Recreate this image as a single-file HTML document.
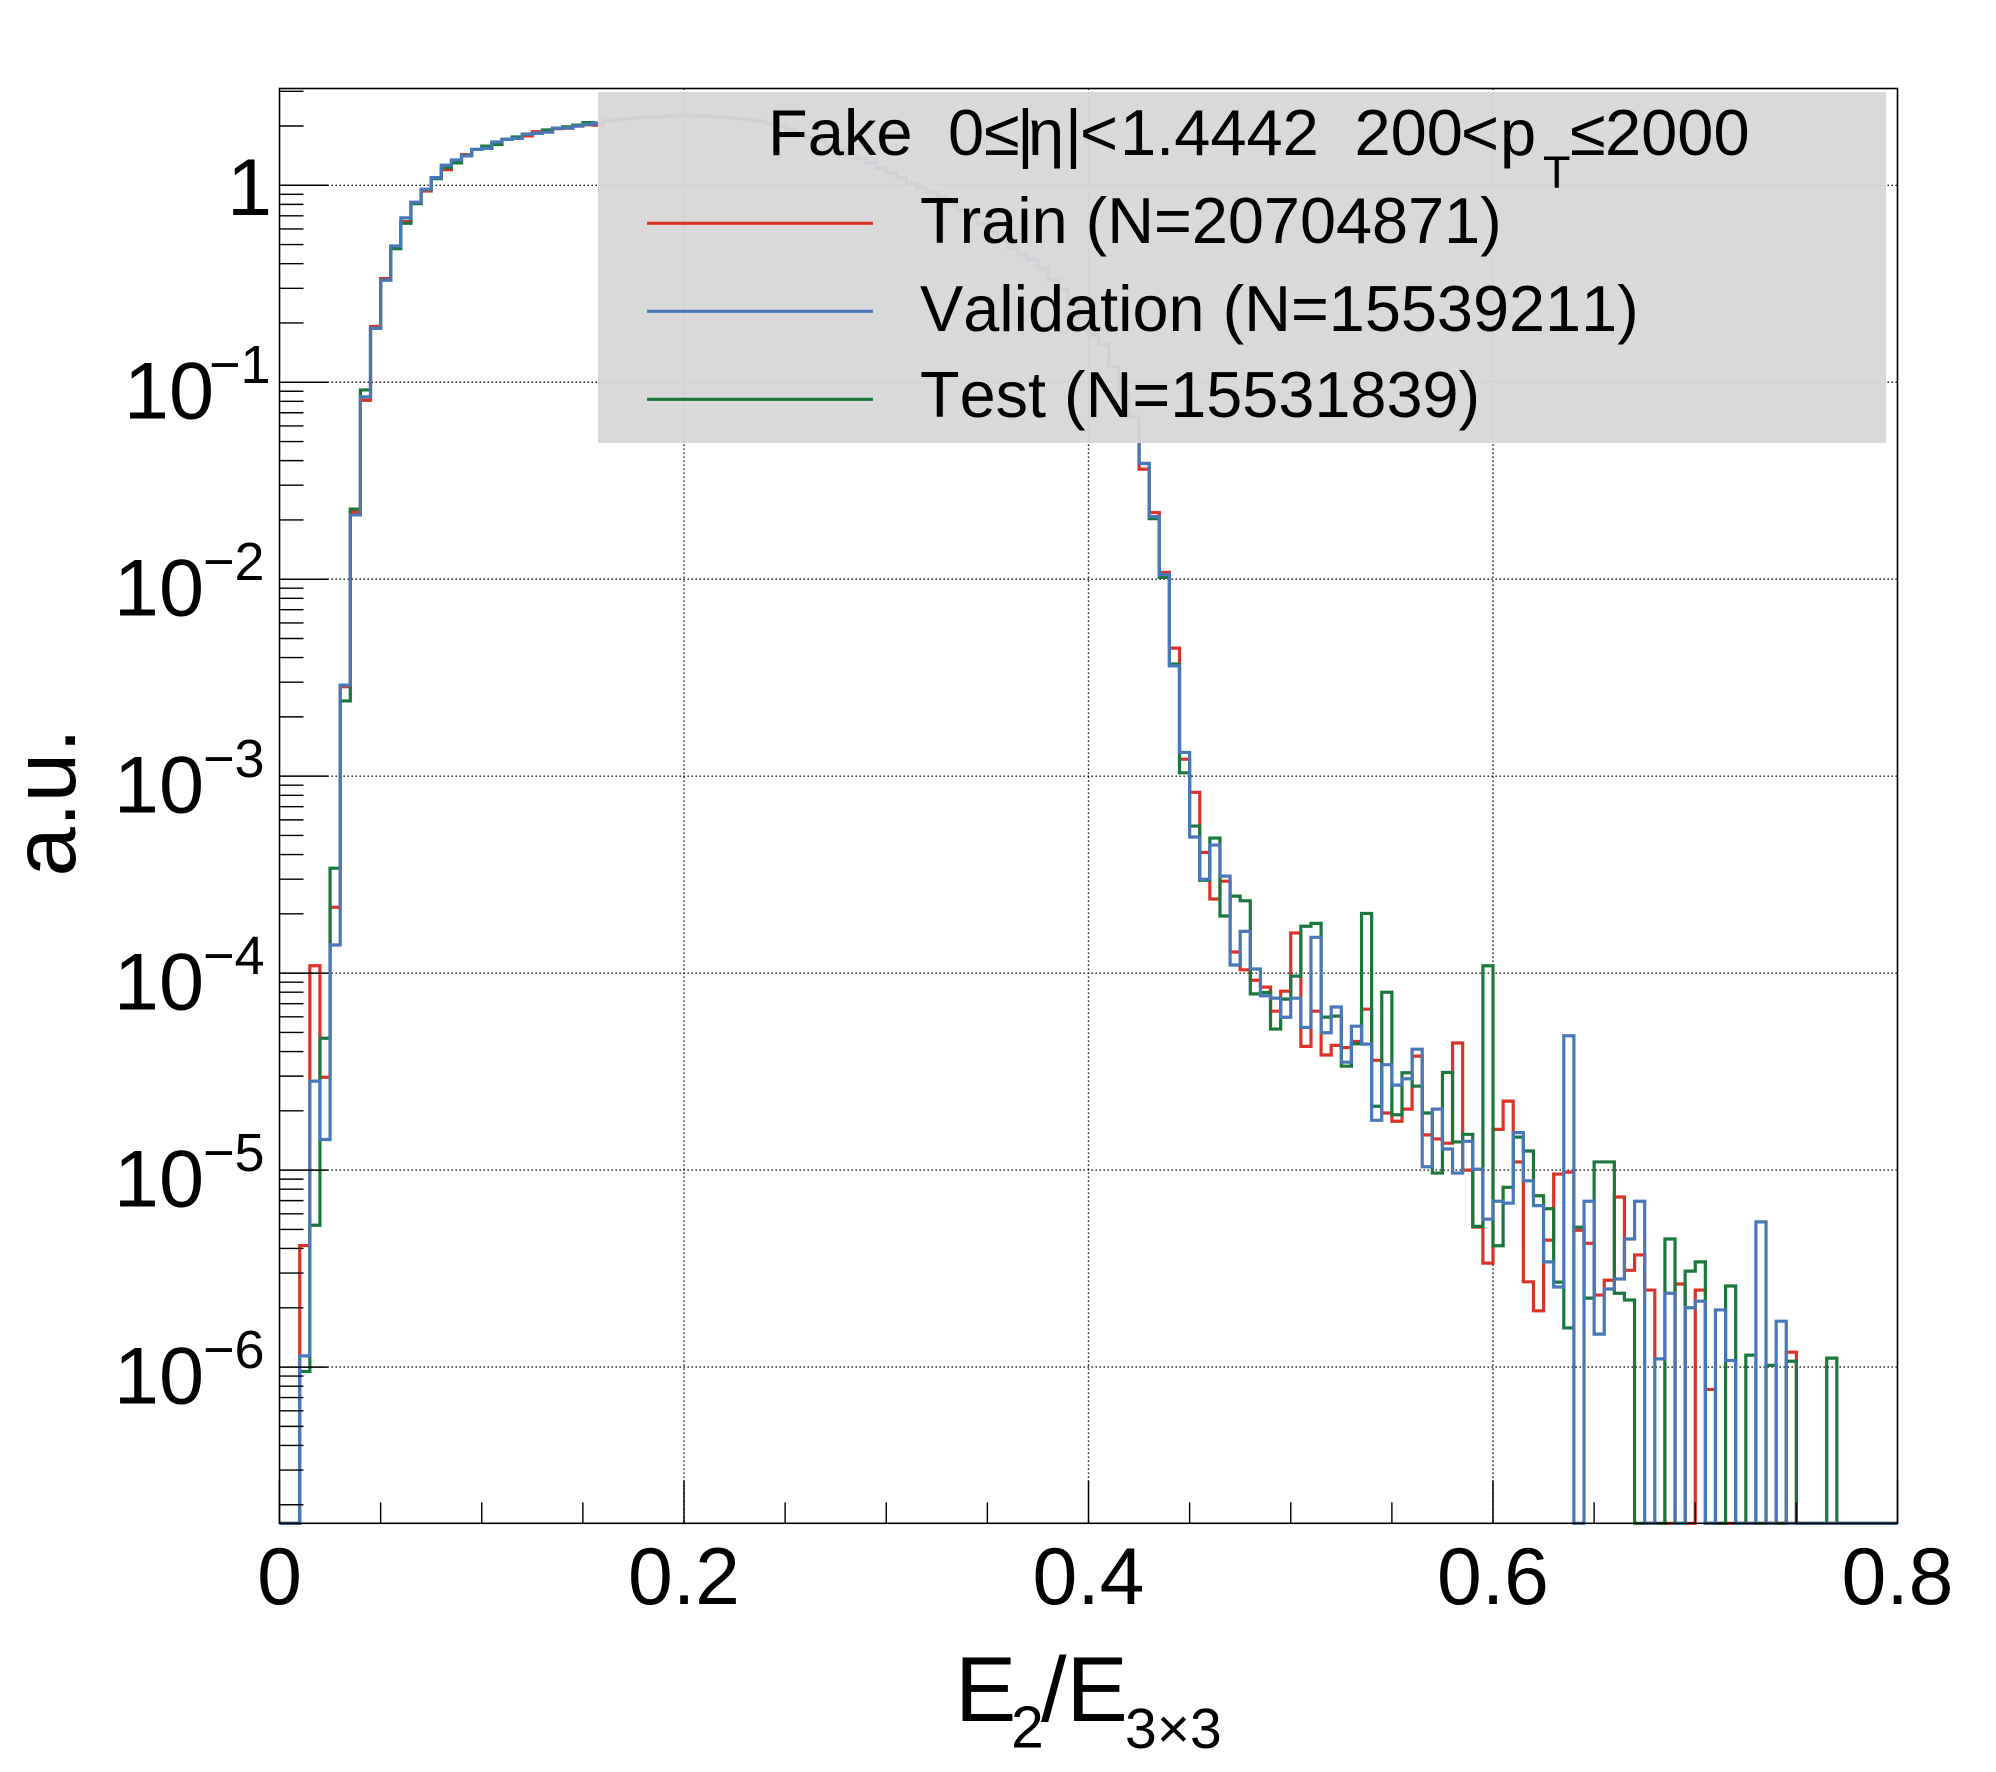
<!DOCTYPE html>
<html lang="en">
<head>
<meta charset="utf-8">
<title>E2/E3x3 distribution</title>
<style>
html,body{margin:0;padding:0;background:#fff;}
svg{display:block;}
text{font-family:"Liberation Sans","Noto Sans CJK JP",sans-serif;fill:#000;font-kerning:none;}
</style>
</head>
<body>
<svg id="chart" xmlns="http://www.w3.org/2000/svg" width="1996" height="1772" viewBox="0 0 1996 1772">
  <rect x="0" y="0" width="1996" height="1772" fill="#ffffff"/>
  <g id="grid"></g>
  <g id="series"></g>
  <g id="axes"></g>

  <g>
    <rect x="598" y="92" width="1288" height="351" fill="rgb(215,215,215)" fill-opacity="0.94"/>
    <text y="155" font-size="65"><tspan x="768">Fake</tspan><tspan x="948">0</tspan><tspan x="984">≤</tspan><tspan x="1017">|</tspan><tspan x="1028">η</tspan><tspan x="1065">|</tspan><tspan x="1080">&lt;</tspan><tspan x="1120">1.4442</tspan><tspan x="1354.5">200</tspan><tspan x="1461">&lt;</tspan><tspan x="1500">p</tspan><tspan x="1543" font-size="45" dy="33">T</tspan><tspan x="1570" dy="-33">≤</tspan><tspan x="1605">2000</tspan></text>
    <line x1="647" x2="873" y1="223.3" y2="223.3" stroke="#dc3228" stroke-width="3.2"/>
    <text x="920" y="243" font-size="64.8">Train (N=20704871)</text>
    <line x1="647" x2="873" y1="311.3" y2="311.3" stroke="#4878b8" stroke-width="3.2"/>
    <text x="920" y="331" font-size="64.8">Validation (N=15539211)</text>
    <line x1="647" x2="873" y1="399.3" y2="399.3" stroke="#1a783c" stroke-width="3.2"/>
    <text x="920" y="417" font-size="64.8">Test (N=15531839)</text>
  </g>

  <text transform="translate(75,876.6) rotate(-90)" font-size="89">a.u.</text>
  <text y="1721" font-size="92"><tspan x="955">E</tspan><tspan x="1011" font-size="59" dy="26.5">2</tspan><tspan x="1041" dy="-26.5">/E</tspan><tspan x="1125" font-size="57" dy="27">3×3</tspan></text>
</svg>

<script>
const binCount = 160;
const xMin = 0;
const xMax = 0.8;
const yMax = 3.1;
const yMin = 1.61e-7;

const xTickValues = [0, 0.2, 0.4, 0.6, 0.8];
const xTickLabels = ["0", "0.2", "0.4", "0.6", "0.8"];
const xMinorStep = 0.05;
const yDecadeExponents = [0, -1, -2, -3, -4, -5, -6];
const yDecadeBase = ["1", "10", "10", "10", "10", "10", "10"];
const yDecadeSup = ["", "−1", "−2", "−3", "−4", "−5", "−6"];

const trainValues = [
0,0,4.14e-6,1.09e-4,2.96e-5,2.16e-4,2.85e-3,.0219,.081,.192,
.336,.485,.654,.815,.935,1.09,1.2,1.33,1.43,1.52,
1.55,1.65,1.71,1.74,1.78,1.87,1.87,1.94,1.95,2.0,
2.03,2.02,2.12,2.15,2.18,2.2,2.22,2.23,2.25,2.26,
2.26,2.25,2.24,2.22,2.2,2.18,2.15,2.11,2.06,2.0,
1.94,1.84,1.75,1.68,1.6,1.53,1.44,1.37,1.3,1.22,
1.15,1.09,1.02,.966,.92,.869,.804,.75,.693,.637,
.582,.528,.479,.443,.418,.379,.33,.294,.252,.211,
.174,.155,.12,.0863,.0667,.0362,.0218,.01084,4.47e-3,1.22e-3,
8.28e-4,4.1e-4,2.38e-4,2.93e-4,1.28e-4,1.04e-4,9.2e-5,8.5e-5,6.41e-5,8.1e-5,
1.6e-4,4.25e-5,6.41e-5,3.84e-5,4.3e-5,4.19e-5,4.5e-5,6.56e-5,3.61e-5,1.95e-5,
1.77e-5,2.04e-5,3.79e-5,1.51e-5,1.44e-5,1.37e-5,4.42e-5,1.0e-5,5.13e-6,3.37e-6,
1.61e-5,2.24e-5,1.1e-5,2.71e-6,1.93e-6,4.41e-6,9.55e-6,9.77e-6,4.95e-6,4.25e-6,
2.32e-6,2.76e-6,7.3e-6,3.1e-6,3.71e-6,2.46e-6,1.1e-6,0,2.64e-6,0,
2.46e-6,7.7e-7,0,0,0,0,0,0,0,1.19e-6,
0,0,0,0,0,0,0,0,0,0
];

const validationValues = [
0,0,1.14e-6,2.83e-5,1.43e-5,1.39e-4,2.9e-3,.0212,.0843,.188,
.33,.492,.683,.82,.955,1.094,1.264,1.345,1.41,1.52,
1.54,1.66,1.71,1.73,1.815,1.84,1.86,1.95,1.95,2.0,
2.04,2.06,2.12,2.15,2.18,2.2,2.22,2.23,2.25,2.26,
2.26,2.25,2.24,2.22,2.2,2.18,2.15,2.11,2.06,2.0,
1.94,1.84,1.75,1.68,1.6,1.53,1.44,1.37,1.3,1.22,
1.15,1.09,1.02,.966,.92,.869,.804,.75,.693,.637,
.582,.528,.479,.443,.418,.379,.33,.294,.252,.211,
.174,.155,.12,.0863,.0667,.0387,.0208,.01057,3.63e-3,1.32e-3,
4.91e-4,3.0e-4,4.47e-4,3.11e-4,1.10e-4,1.63e-4,1.05e-4,7.68e-5,7.47e-5,5.97e-5,
7.46e-5,5.3e-5,1.52e-4,4.98e-5,6.73e-5,3.53e-5,5.38e-5,4.36e-5,1.79e-5,3.43e-5,
2.7e-5,2.91e-5,4.11e-5,1.04e-5,2.04e-5,1.28e-5,9.66e-6,1.4e-5,1.01e-5,5.64e-6,
6.95e-6,6.8e-6,1.55e-5,8.83e-6,6.6e-6,3.42e-6,2.55e-6,4.81e-5,0,6.95e-6,
1.47e-6,2.49e-6,2.8e-6,4.47e-6,6.95e-6,0,1.1e-6,2.37e-6,0,2.0e-6,
2.16e-6,0,1.95e-6,1.08e-6,0,0,5.46e-6,0,1.71e-6,0,
0,0,0,0,0,0,0,0,0,0
];

const testValues = [
0,0,9.5e-7,5.25e-6,4.67e-5,3.41e-4,2.41e-3,.0227,.0914,.188,
.33,.477,.641,.807,.95,1.08,1.23,1.3,1.41,1.52,
1.58,1.61,1.71,1.76,1.82,1.84,1.91,1.95,1.98,2.02,
2.08,2.07,2.12,2.15,2.18,2.2,2.22,2.23,2.25,2.26,
2.26,2.25,2.24,2.22,2.2,2.18,2.15,2.11,2.06,2.0,
1.94,1.84,1.75,1.68,1.6,1.53,1.44,1.37,1.3,1.22,
1.15,1.09,1.02,.966,.92,.869,.804,.75,.693,.637,
.582,.528,.479,.443,.418,.379,.33,.294,.252,.211,
.174,.155,.12,.0863,.0667,.0387,.0203,.0102,3.71e-3,1.04e-3,
5.58e-4,2.96e-4,4.85e-4,1.95e-4,2.46e-4,2.33e-4,7.85e-5,7.98e-5,5.2e-5,7.38e-5,
9.66e-5,1.73e-4,1.79e-4,5.98e-5,6.05e-5,3.37e-5,4.38e-5,2.01e-4,2.11e-5,8.0e-5,
1.91e-5,3.12e-5,2.67e-5,1.95e-5,9.66e-6,3.13e-5,1.39e-5,1.52e-5,5.18e-6,1.09e-4,
4.13e-6,8.18e-6,1.47e-5,1.25e-5,7.41e-6,6.37e-6,2.7e-6,1.58e-6,5.13e-6,2.24e-6,
1.1e-5,1.1e-5,2.37e-6,2.19e-6,0,0,0,4.47e-6,0,3.07e-6,
3.42e-6,0,0,2.58e-6,0,1.15e-6,0,1.02e-6,0,1.07e-6,
0,0,0,1.11e-6,0,0,0,0,0,0
];

const svgNS = "http://www.w3.org/2000/svg";
const frameLeft = 279.5;
const frameRight = 1897.5;
const frameTop = 88.5;
const frameBottom = 1523.3;

function xScale(v) {
  return frameLeft + (v - xMin) / (xMax - xMin) * (frameRight - frameLeft);
}
function yScale(v) {
  if (!(v > yMin)) return frameBottom;
  const top = Math.log10(yMax), bottom = Math.log10(yMin);
  return frameTop + (top - Math.log10(v)) / (top - bottom) * (frameBottom - frameTop);
}
function make(tag, attrs, parent) {
  const el = document.createElementNS(svgNS, tag);
  for (const k in attrs) el.setAttribute(k, attrs[k]);
  parent.appendChild(el);
  return el;
}

const gridLayer = document.getElementById("grid");
const seriesLayer = document.getElementById("series");
const axesLayer = document.getElementById("axes");

yDecadeExponents.forEach(function (e) {
  const y = yScale(Math.pow(10, e));
  const line = make("line", {x1: frameLeft, x2: frameRight, y1: y, y2: y, stroke: "#000", "stroke-width": 1.4, "stroke-dasharray": "1.4 2.6"}, gridLayer);
  
  
});
xTickValues.slice(1, -1).forEach(function (v) {
  const x = xScale(v);
  const line = make("line", {x1: x, x2: x, y1: frameTop, y2: frameBottom, stroke: "#000", "stroke-width": 1.4, "stroke-dasharray": "1.4 2.6"}, gridLayer);
  
  
});

function stepPath(values) {
  const w = (xMax - xMin) / binCount;
  let d = "M" + xScale(xMin).toFixed(2) + " " + yScale(values[0]).toFixed(2);
  for (let i = 0; i < binCount; i++) {
    d += "V" + yScale(values[i]).toFixed(2) + "H" + xScale(xMin + w * (i + 1)).toFixed(2);
  }
  return d;
}

const trainPath = make("path", {d: stepPath(trainValues), fill: "none", stroke: "#dc3228", "stroke-width": 3.2}, seriesLayer);


const testPath = make("path", {d: stepPath(testValues), fill: "none", stroke: "#1a783c", "stroke-width": 3.2}, seriesLayer);


const validationPath = make("path", {d: stepPath(validationValues), fill: "none", stroke: "#4878b8", "stroke-width": 3.2}, seriesLayer);



const frame = make("rect", {x: frameLeft, y: frameTop, width: frameRight - frameLeft, height: frameBottom - frameTop, fill: "none", stroke: "#000", "stroke-width": 1.6}, axesLayer);



for (let e = -7; e <= 0; e++) {
  for (let m = 2; m <= 9; m++) {
    const v = m * Math.pow(10, e);
    if (v <= yMin || v >= yMax) continue;
    const y = yScale(v);
    const tick = make("line", {x1: frameLeft, x2: frameLeft + 24, y1: y, y2: y, stroke: "#000", "stroke-width": 1.4}, axesLayer);
    
    
  }
}

yDecadeExponents.forEach(function (e, i) {
  const y = yScale(Math.pow(10, e));
  const tick = make("line", {x1: frameLeft, x2: frameLeft + 48, y1: y, y2: y, stroke: "#000", "stroke-width": 1.5}, axesLayer);
  
  
  const hasSup = yDecadeSup[i] !== "";
  const narrow = yDecadeSup[i] === "−1";
  const label = make("text", {x: hasSup ? (narrow ? 214 : 204) : 272, y: y + (hasSup ? 36.5 : 29.7), "text-anchor": "end", "font-size": 81}, axesLayer);
  
  
  label.textContent = yDecadeBase[i];
  if (hasSup) {
    const sup = make("text", {x: narrow ? 209 : 203, y: y + 1, "font-size": 54}, axesLayer);
    
    
    sup.textContent = yDecadeSup[i];
  }
});

const minorCount = Math.round((xMax - xMin) / xMinorStep);
for (let i = 1; i < minorCount; i++) {
  const v = xMin + i * xMinorStep;
  if (i % 4 === 0) continue;
  const x = xScale(v);
  const tick = make("line", {x1: x, x2: x, y1: frameBottom - 21, y2: frameBottom, stroke: "#000", "stroke-width": 1.4}, axesLayer);
  
  
}
xTickValues.forEach(function (v, i) {
  const x = xScale(v);
  const tick = make("line", {x1: x, x2: x, y1: frameBottom - 43, y2: frameBottom, stroke: "#000", "stroke-width": 1.5}, axesLayer);
  
  
  const label = make("text", {x: x, y: 1604, "text-anchor": "middle", "font-size": 80.5}, axesLayer);
  
  
  label.textContent = xTickLabels[i];
});
</script>
</body>
</html>
